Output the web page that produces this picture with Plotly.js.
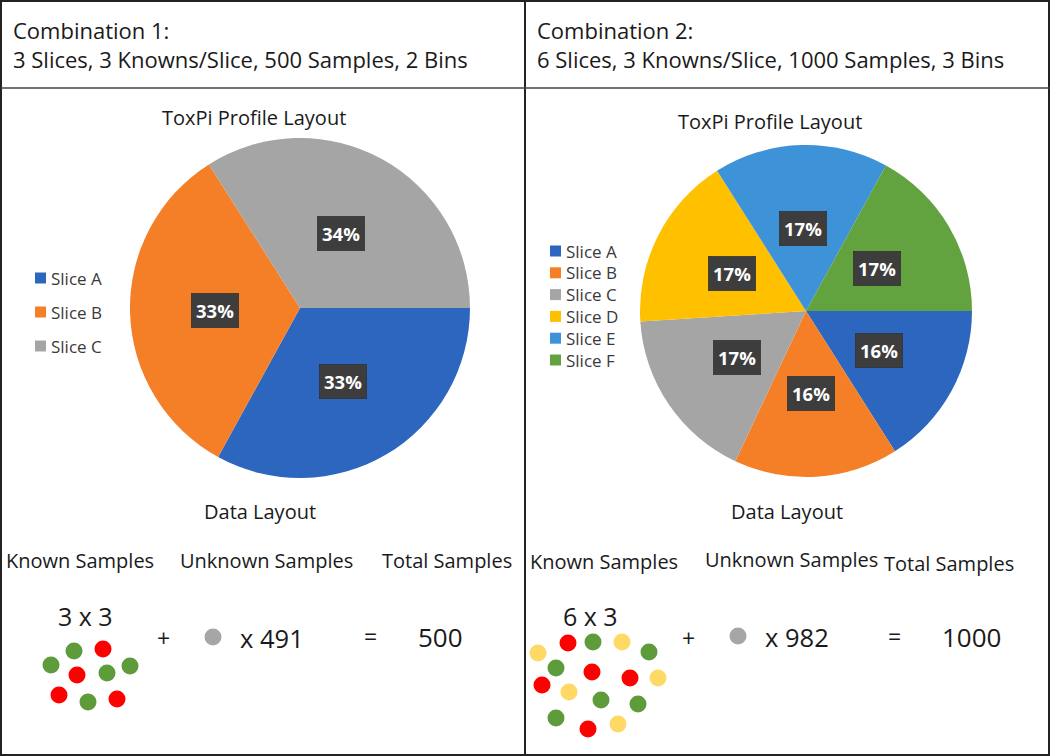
<!DOCTYPE html>
<html><head><meta charset="utf-8">
<script src="https://cdn.plot.ly/plotly-3.0.1.min.js"></script>
<style>html,body{margin:0;padding:0;background:#fff}</style>
</head><body><div id="chart" style="width:1050px;height:756px"></div>
<script>
// ---------- data ----------
const slices1 = ['Slice A', 'Slice B', 'Slice C'];
const values1 = [33, 33, 34];
const slices2 = ['Slice A', 'Slice B', 'Slice C', 'Slice D', 'Slice E', 'Slice F'];
const values2 = [16, 16, 17, 17, 17, 17];
const sliceColors = ['#2C66BE', '#F47F26', '#A5A5A5', '#FFC000', '#3E92D8', '#62A23F'];

const header1 = ['Combination 1:', '3 Slices, 3 Knowns/Slice, 500 Samples, 2 Bins'];
const header2 = ['Combination 2:', '6 Slices, 3 Knowns/Slice, 1000 Samples, 3 Bins'];
const columnLabels = ['Known Samples', 'Unknown Samples', 'Total Samples'];

const knownSlices1 = 3, knownPerSlice1 = 3, unknown1 = 491, total1 = 500;
const knownSlices2 = 6, knownPerSlice2 = 3, unknown2 = 982, total2 = 1000;

// known sample dots (bin class of each dot + where it sits in the drawing)
const dots1X = [74, 103, 51, 77, 107, 130, 59, 88, 117];
const dots1Y = [651, 649, 665, 675, 673, 666, 695, 702, 699];
const dots1Bin = ['g', 'r', 'g', 'r', 'g', 'g', 'r', 'g', 'r'];
const dots2X = [538, 568, 593, 622, 649, 556, 592, 630, 658, 542, 569, 601, 638, 556, 588, 618];
const dots2Y = [653, 643, 642, 642, 652, 668, 672, 678, 678, 685, 692, 700, 704, 718, 729, 724];
const dots2Bin = ['y', 'r', 'g', 'y', 'g', 'g', 'r', 'r', 'y', 'r', 'y', 'g', 'g', 'g', 'r', 'y'];
const binColors = {g: '#5E9B3A', r: '#FF0000', y: '#FFD966'};

// ---------- layout helpers ----------
const W = 1050, H = 756;
const FONT = '"Open Sans", "Noto Sans", sans-serif';
const TXT = '#1a1a1a';

const pie1 = {cx: 300, cy: 308, r: 170};
const pie2 = {cx: 806, cy: 311, r: 166};

function domainOf(p) {
  return {x: [(p.cx - p.r) / W, (p.cx + p.r) / W], y: [1 - (p.cy + p.r) / H, 1 - (p.cy - p.r) / H]};
}

const annotations = [];
const shapes = [];

function txt(x, y, text, size, anchor, color) {
  annotations.push({x: x, y: y, xref: 'x', yref: 'y', text: text, showarrow: false,
    xanchor: anchor || 'center', yanchor: 'middle', align: anchor || 'center',
    font: {family: FONT, size: size, color: color || TXT}});
}

function pieLabels(vals, p) {
  const sum = vals.reduce((a, b) => a + b, 0);
  let cum = 0;
  vals.forEach(v => {
    const th = (cum + v / 2) / sum * 2 * Math.PI; // clockwise from 3 o'clock
    cum += v;
    annotations.push({
      x: p.cx + 0.5 * p.r * Math.cos(th), y: p.cy + 0.5 * p.r * Math.sin(th),
      xref: 'x', yref: 'y', showarrow: false, text: '<b>' + Math.round(v / sum * 100) + '%</b>',
      font: {family: FONT, size: 18.5, color: '#ffffff'}, bgcolor: '#3D3D3D', borderpad: 4.5,
      bordercolor: '#2a2a2a', borderwidth: 0.5
    });
  });
}

function legendOf(names, x0, y0, step) {
  names.forEach((n, i) => {
    const yc = y0 + i * step;
    shapes.push({type: 'rect', xref: 'x', yref: 'y', x0: x0, x1: x0 + 11, y0: yc - 5.5, y1: yc + 5.5,
      fillcolor: sliceColors[i], line: {width: 0}});
    txt(x0 + 14, yc, n, 17, 'left', '#3a3a3a');
  });
}

// headers
txt(11, 44, header1.join('<br>'), 22, 'left');
txt(535, 44, header2.join('<br>'), 22, 'left');

// pie titles
txt(254, 117, 'ToxPi Profile Layout', 20);
txt(770, 121, 'ToxPi Profile Layout', 20);
txt(260, 511, 'Data Layout', 20);
txt(787, 511, 'Data Layout', 20);

pieLabels(values1, pie1);
pieLabels(values2, pie2);
legendOf(slices1, 35, 278, 34);
legendOf(slices2, 550, 251, 21.8);

// sample equation, left
txt(80, 560.5, columnLabels[0], 20);
txt(266, 560.5, columnLabels[1], 20);
txt(447, 560.5, columnLabels[2], 20);
txt(85.5, 616, knownSlices1 + ' x ' + knownPerSlice1, 25);
txt(163, 638, '+', 23);
txt(272, 638, 'x ' + unknown1, 25.5);
txt(370, 636, '=', 23);
txt(440, 637, String(total1), 26);

// sample equation, right
txt(604, 561.5, columnLabels[0], 20);
txt(791, 559, columnLabels[1], 20);
txt(949, 563, columnLabels[2], 20);
txt(590, 616, knownSlices2 + ' x ' + knownPerSlice2, 25);
txt(688, 638, '+', 23);
txt(797, 637, 'x ' + unknown2, 25.5);
txt(894, 636, '=', 23);
txt(971, 637, String(total2), 26);

// frame
const frame = {color: '#222', width: 2};
shapes.push({type: 'rect', xref: 'x', yref: 'y', x0: 1, x1: 1049, y0: 1, y1: 755, line: frame});
shapes.push({type: 'line', xref: 'x', yref: 'y', x0: 525, x1: 525, y0: 1, y1: 755, line: frame});
shapes.push({type: 'line', xref: 'x', yref: 'y', x0: 1, x1: 1049, y0: 88, y1: 88, line: {color: '#444', width: 1.5}});

const traces = [
  {type: 'pie', labels: slices1, values: values1, marker: {colors: sliceColors.slice(0, 3), line: {width: 0}},
   sort: false, direction: 'clockwise', rotation: 90, textinfo: 'none', hoverinfo: 'skip',
   domain: domainOf(pie1), showlegend: false},
  {type: 'pie', labels: slices2, values: values2, marker: {colors: sliceColors, line: {width: 0}},
   sort: false, direction: 'clockwise', rotation: 90, textinfo: 'none', hoverinfo: 'skip',
   domain: domainOf(pie2), showlegend: false},
  {type: 'scatter', mode: 'markers', x: dots1X, y: dots1Y, hoverinfo: 'skip', showlegend: false,
   marker: {size: 17, color: dots1Bin.map(b => binColors[b]), line: {width: 0}}},
  {type: 'scatter', mode: 'markers', x: dots2X, y: dots2Y, hoverinfo: 'skip', showlegend: false,
   marker: {size: 17, color: dots2Bin.map(b => binColors[b]), line: {width: 0}}},
  {type: 'scatter', mode: 'markers', x: [213, 738], y: [637, 636], hoverinfo: 'skip', showlegend: false,
   marker: {size: 17, color: '#A6A6A6', line: {width: 0}}}
];

const layout = {
  width: W, height: H, margin: {l: 0, r: 0, t: 0, b: 0},
  paper_bgcolor: '#ffffff', plot_bgcolor: 'rgba(0,0,0,0)',
  xaxis: {range: [0, W], visible: false, fixedrange: true},
  yaxis: {range: [H, 0], visible: false, fixedrange: true},
  showlegend: false, annotations: annotations, shapes: shapes
};

Plotly.newPlot('chart', traces, layout, {displayModeBar: false, staticPlot: true});
</script></body></html>
